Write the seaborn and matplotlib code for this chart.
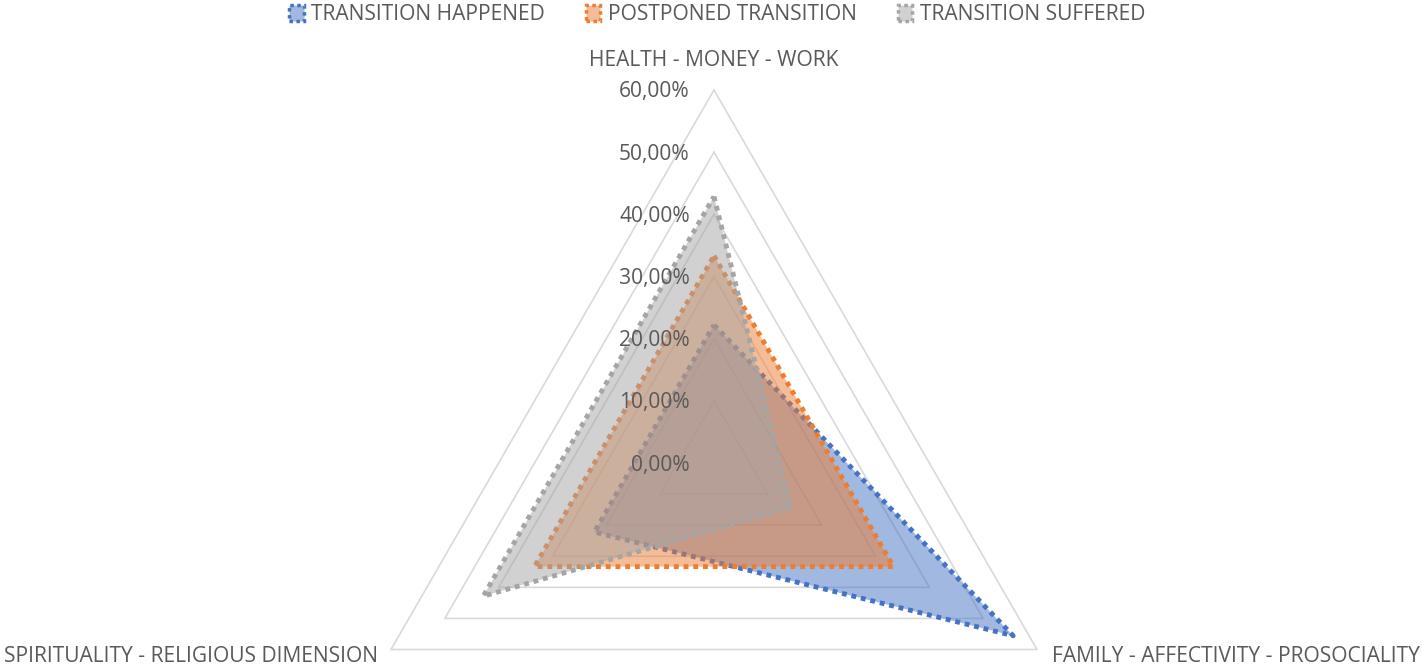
import numpy as np
import pandas as pd
import matplotlib
matplotlib.use("Agg")
import matplotlib.pyplot as plt
import seaborn as sns
from matplotlib.patches import Patch

categories = ["HEALTH - MONEY - WORK", "FAMILY - AFFECTIVITY - PROSOCIALITY", "SPIRITUALITY - RELIGIOUS DIMENSION"]
series_names = ["TRANSITION HAPPENED", "POSTPONED TRANSITION", "TRANSITION SUFFERED"]
happened = [22.22, 55.56, 22.22]
postponed = [33.33, 33.33, 33.33]
suffered = [42.86, 14.29, 42.86]
grid_levels = [10, 20, 30, 40, 50, 60]
tick_labels = ["0,00%", "10,00%", "20,00%", "30,00%", "40,00%", "50,00%", "60,00%"]
colors = ["#4472C4", "#ED7D31", "#A5A5A5"]

sns.set_theme(style="white")
plt.rcParams["font.family"] = ["Open Sans", "DejaVu Sans"]

W, H = 1422, 666
fig = plt.figure(figsize=(W / 100, H / 100), dpi=100)
ax = fig.add_axes([0, 0, 1, 1])
ax.set_axis_off()

px_per_unit = 373 / 60.0
cx, cy = 714, 203  # centre in pixels from left/bottom
ax.set_xlim(-cx / px_per_unit, (W - cx) / px_per_unit)
ax.set_ylim(-cy / px_per_unit, (H - cy) / px_per_unit)

angles = np.deg2rad([90, -30, 210])
FS = 15.1
TXT = "#595959"


def to_xy(vals):
    v = np.asarray(vals, dtype=float)
    x = v * np.cos(angles)
    y = v * np.sin(angles)
    return np.append(x, x[0]), np.append(y, y[0])


# grid triangles
for lev in grid_levels:
    gx, gy = to_xy([lev] * 3)
    ax.plot(gx, gy, color="#D9D9D9", lw=1.2, zorder=1)

# tick labels
for i, lab in enumerate(tick_labels):
    ax.text(-3.9, i * 10 - 2 / px_per_unit, lab, ha="right", va="center", fontsize=FS, color=TXT, zorder=20)

# series
df = pd.DataFrame({"series": np.repeat(series_names, 3),
                   "category": categories * 3,
                   "value": happened + postponed + suffered})
for k, (name, col) in enumerate(zip(series_names, colors)):
    vals = df.loc[df.series == name, "value"].values
    x, y = to_xy(vals)
    ax.fill(x, y, color=col, alpha=0.5, lw=0, zorder=2 + 2 * k)
    ax.plot(x, y, color=col, lw=3.5, linestyle=(0, (1, 1)), dash_capstyle="butt", zorder=3 + 2 * k)

# category labels
ax.text(0, 60 + 30 / px_per_unit, categories[0], ha="center", va="center", fontsize=FS, color=TXT)
bx, by = to_xy([60] * 3)
ax.text(bx[1] + 15 / px_per_unit, by[1] - 7 / px_per_unit, categories[1], ha="left", va="center", fontsize=FS, color=TXT)
ax.text(bx[2] - 13 / px_per_unit, by[2] - 7 / px_per_unit, categories[2], ha="right", va="center", fontsize=FS, color=TXT)

handles = [Patch(facecolor=matplotlib.colors.to_rgba(c, 0.5), edgecolor=c, linestyle=(0, (1, 1)), lw=2.5)
           for c in colors]
fig.legend(handles, series_names, loc="center", bbox_to_anchor=(0.5 + 6 / W, 1 - 15 / H), ncol=3,
           frameon=False, fontsize=FS, handlelength=0.7, handleheight=0.8, handletextpad=0.35,
           columnspacing=1.95, labelcolor=TXT)

fig.savefig("out.png", dpi=100)
